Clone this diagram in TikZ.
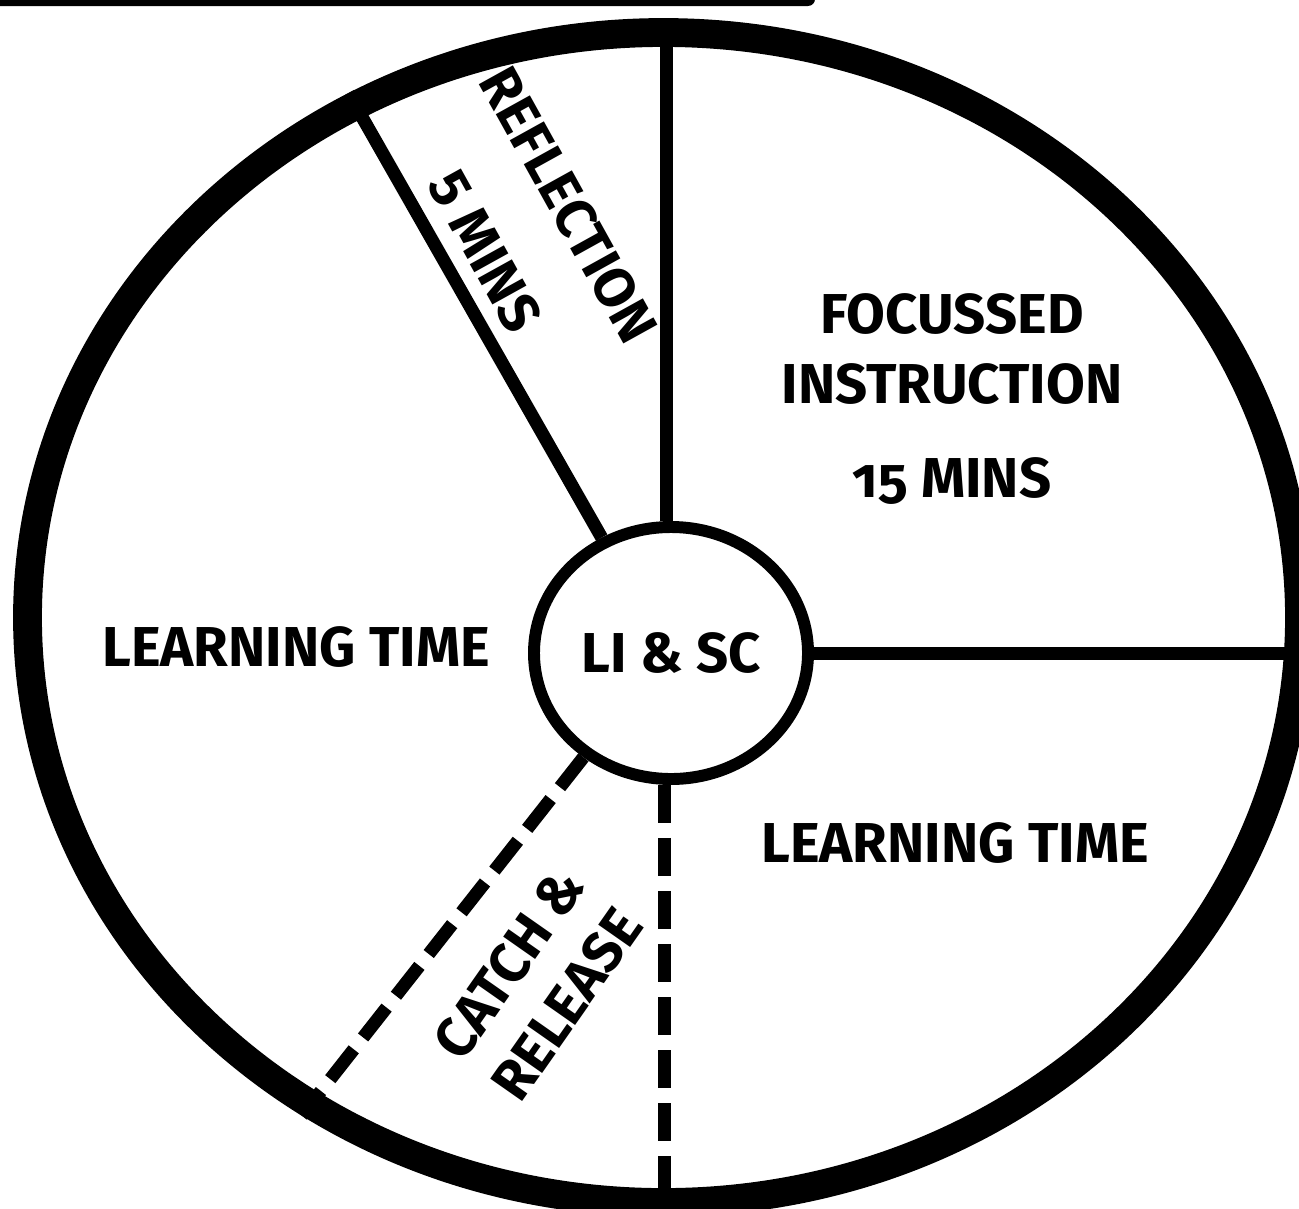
\documentclass[tikz,border=0pt]{standalone}
\usepackage{fontspec}
\setmainfont{Fira Sans}
\newfontfamily\oldfigs[Numbers=OldStyle]{Fira Sans}
\usetikzlibrary{positioning}
\usetikzlibrary{shapes.geometric}

\begin{document}
\begin{tikzpicture}[
    sector/.style={font=\fontsize{16}{19}\selectfont\bfseries, align=center, inner sep=0pt},
    spoke/.style={line width=3.7pt},
    dashspoke/.style={line width=3.7pt, dash pattern=on 10.8pt off 4.3pt}
]
\useasboundingbox (0,0) rectangle (12.99,12.08);
% bar along the top edge
\fill[rounded corners=2pt] (-0.2,12.02) rectangle (8.15,12.3);
% dial and centre
\node[ellipse, draw, line width=8.2pt, minimum width=12.72cm, minimum height=11.7cm, inner sep=0pt] (dial) at (6.635,5.905) {};
\node[ellipse, draw, line width=3.4pt, minimum width=2.74cm, minimum height=2.52cm, inner sep=0pt, sector] (core) at (6.71,5.55) {LI \& SC};
% spokes
\draw[spoke] (core.92) -- (core.92 |- dial.north);
\draw[spoke] (core.121) -- (dial.121);
\draw[spoke] (core.east) -- (core.east -| dial.east);
\draw[dashspoke] (core.230) -- (dial.234);
\draw[dashspoke] (core.267) -- (core.267 |- dial.south);
% sector texts
\node[sector, anchor=base] (focus) at (9.52,8.75) {FOCUSSED};
\node[sector, anchor=base] (instr) at (9.52,8.05) {INSTRUCTION};
\node[sector, anchor=base] (fifteen) at (9.52,7.11) {{\oldfigs 15} MINS};
\node[sector, anchor=base] (lefttime) at (2.96,5.42) {LEARNING TIME};
\node[sector, anchor=base] (righttime) at (9.55,3.46) {LEARNING TIME};
\node[sector, rotate=-61] (reflect) at (5.27,9.80) {REFLECTION\\[8pt]5 MINS};
\node[sector, rotate=55] (catch) at (5.38,2.24) {CATCH \&\\[1pt]RELEASE};
\end{tikzpicture}
\end{document}
